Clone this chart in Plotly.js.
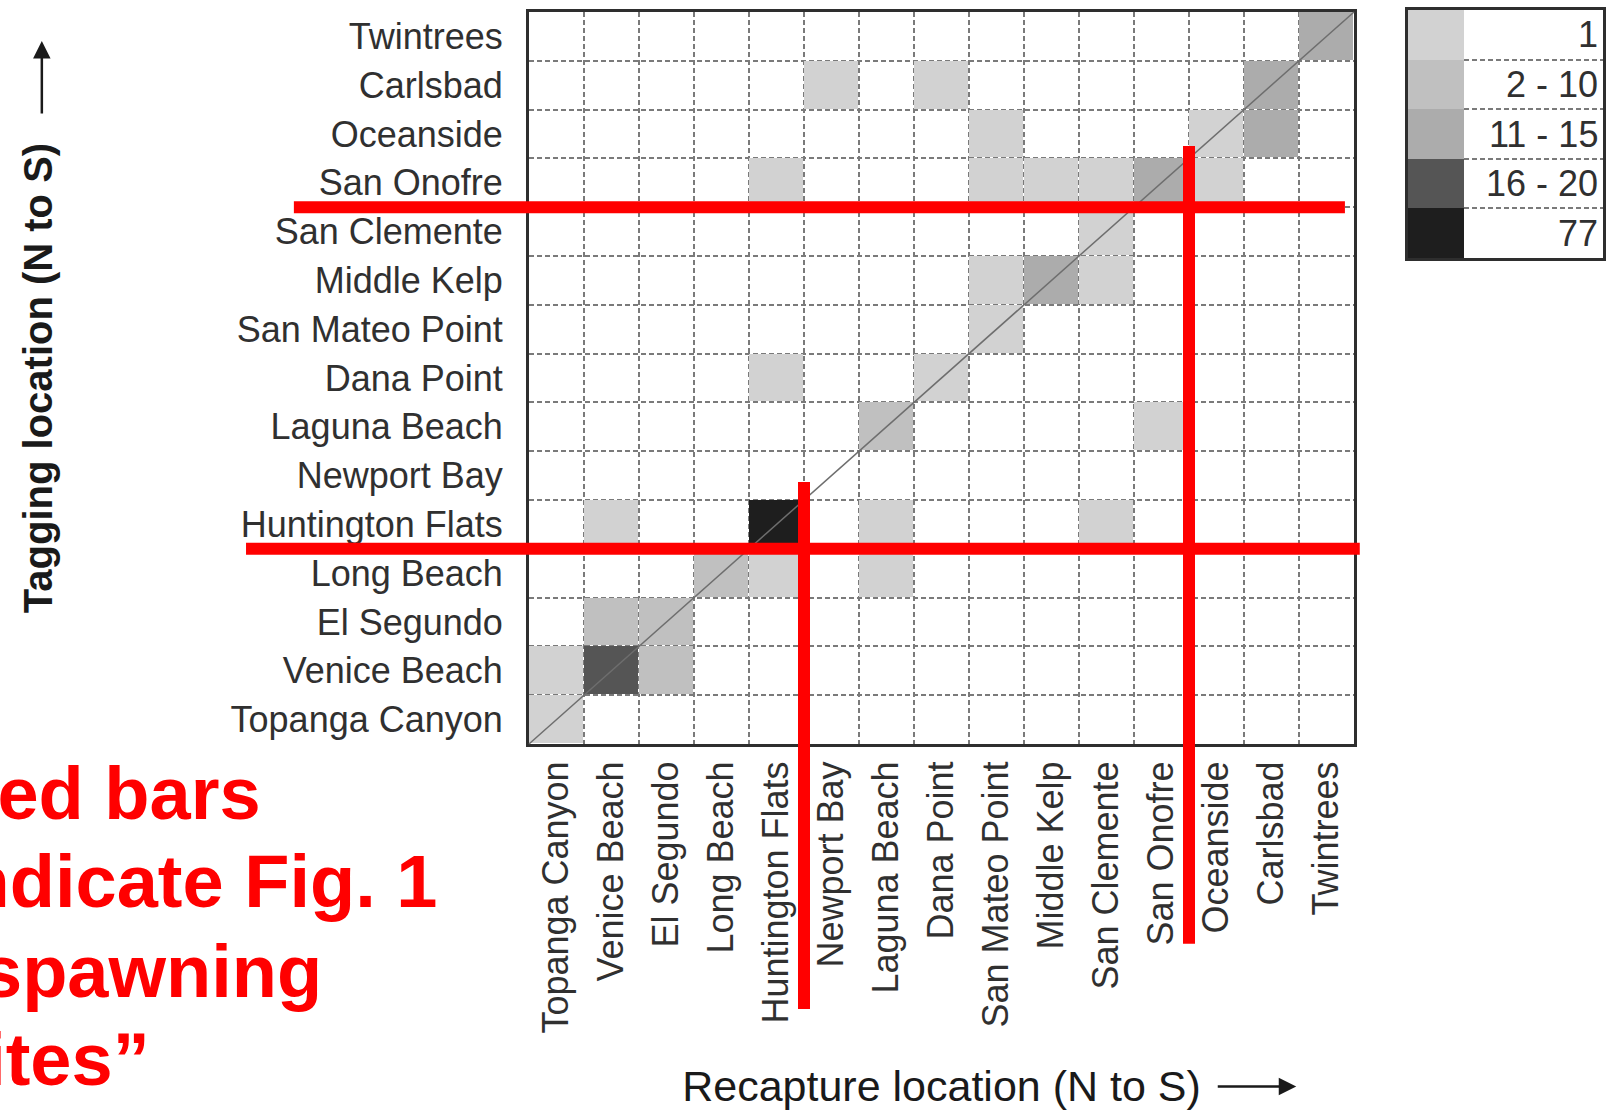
<!DOCTYPE html>
<html>
<head>
<meta charset="utf-8">
<script src="https://cdn.plot.ly/plotly-3.0.1.min.js"></script>
<style>
  html, body { margin: 0; padding: 0; background: #ffffff; }
  #chart { width: 1606px; height: 1110px; }
</style>
</head>
<body>
<div id="chart"></div>
<script>
// ---- Data -------------------------------------------------------------
// Locations ordered north to south (x: left->right, y: bottom->top)
const locations = ['Topanga Canyon', 'Venice Beach', 'El Segundo', 'Long Beach',
  'Huntington Flats', 'Newport Bay', 'Laguna Beach', 'Dana Point', 'San Mateo Point',
  'Middle Kelp', 'San Clemente', 'San Onofre', 'Oceanside', 'Carlsbad', 'Twintrees'];

// One entry per shaded cell: tagging site, recapture site, number of fish
const tagSite = [
  'Twintrees',
  'Carlsbad', 'Carlsbad', 'Carlsbad',
  'Oceanside', 'Oceanside', 'Oceanside',
  'San Onofre', 'San Onofre', 'San Onofre', 'San Onofre', 'San Onofre', 'San Onofre',
  'San Clemente',
  'Middle Kelp', 'Middle Kelp', 'Middle Kelp',
  'San Mateo Point',
  'Dana Point', 'Dana Point',
  'Laguna Beach', 'Laguna Beach',
  'Huntington Flats', 'Huntington Flats', 'Huntington Flats', 'Huntington Flats',
  'Long Beach', 'Long Beach', 'Long Beach',
  'El Segundo', 'El Segundo',
  'Venice Beach', 'Venice Beach', 'Venice Beach',
  'Topanga Canyon'];
const recapSite = [
  'Twintrees',
  'Newport Bay', 'Dana Point', 'Carlsbad',
  'San Mateo Point', 'Oceanside', 'Carlsbad',
  'Huntington Flats', 'San Mateo Point', 'Middle Kelp', 'San Clemente', 'San Onofre', 'Oceanside',
  'San Clemente',
  'San Mateo Point', 'Middle Kelp', 'San Clemente',
  'San Mateo Point',
  'Huntington Flats', 'Dana Point',
  'Laguna Beach', 'San Onofre',
  'Venice Beach', 'Huntington Flats', 'Laguna Beach', 'San Clemente',
  'Long Beach', 'Huntington Flats', 'Laguna Beach',
  'Venice Beach', 'El Segundo',
  'Topanga Canyon', 'Venice Beach', 'El Segundo',
  'Topanga Canyon'];
const fishCount = [
  13,
  1, 1, 14,
  1, 1, 12,
  1, 1, 1, 1, 12, 1,
  1,
  1, 12, 1,
  1,
  1, 1,
  6, 1,
  1, 77, 1, 1,
  6, 1, 1,
  5, 5,
  1, 18, 5,
  1];

// Legend bins
const binLabels = ['1', '2 - 10', '11 - 15', '16 - 20', '77'];
const binUpper  = [1, 10, 15, 20, 77];
const binColors = ['#d2d2d2', '#c0c0c0', '#acacac', '#555555', '#1e1e1e'];

// Overlay note
const noteLines = ['Red bars', 'indicate Fig. 1', '\u201Cspawning', 'sites\u201D'];

// ---- Build matrices ---------------------------------------------------
const n = locations.length;
const nb = binLabels.length;
const binOf = c => binUpper.findIndex(u => c <= u);
const z = locations.map(() => locations.map(() => null));
const counts = locations.map(() => locations.map(() => null));
tagSite.forEach((t, i) => {
  const r = locations.indexOf(t);
  const c = locations.indexOf(recapSite[i]);
  z[r][c] = binOf(fishCount[i]);
  counts[r][c] = fishCount[i];
});
const colorscale = [];
binColors.forEach((col, i) => { colorscale.push([i / nb, col]); colorscale.push([(i + 1) / nb, col]); });

// upper / right edge of a category, as fraction of the axis domain
const edge = name => (locations.indexOf(name) + 1) / n;
// legend categories bottom -> top
const legendOrder = binLabels.slice().reverse();

const FONT = 'Liberation Sans, Arial, Helvetica, sans-serif';
const TXT = '#303030';

const traces = [
  {
    type: 'heatmap', x: locations, y: locations, z: z, customdata: counts,
    colorscale: colorscale, zmin: -0.5, zmax: nb - 0.5, showscale: false,
    xgap: 1, ygap: 1, xaxis: 'x', yaxis: 'y',
    hovertemplate: 'Tagged: %{y}<br>Recaptured: %{x}<br>Fish: %{customdata}<extra></extra>'
  },
  {
    type: 'heatmap', x: [0], y: binLabels, z: binLabels.map((_, i) => [i]),
    colorscale: colorscale, zmin: -0.5, zmax: nb - 0.5, showscale: false,
    xaxis: 'x2', yaxis: 'y2', hoverinfo: 'skip'
  }
];

const red = '#ff0000';
const shapes = [
  { type: 'line', xref: 'x domain', yref: 'y domain', x0: 0, y0: 0, x1: 1, y1: 1,
    line: { color: '#6e6e6e', width: 1.5 } },
  { type: 'line', xref: 'x domain', yref: 'y domain', x0: -0.285, x1: 0.989,
    y0: edge('San Clemente'), y1: edge('San Clemente'), line: { color: red, width: 12 } },
  { type: 'line', xref: 'x domain', yref: 'y domain', x0: -0.343, x1: 1.007,
    y0: edge('Long Beach'), y1: edge('Long Beach'), line: { color: red, width: 12 } },
  { type: 'line', xref: 'x domain', yref: 'y domain', y0: -0.362, y1: 0.358,
    x0: edge('Huntington Flats'), x1: edge('Huntington Flats'), line: { color: red, width: 12 } },
  { type: 'line', xref: 'x domain', yref: 'y domain', y0: -0.273, y1: 0.817,
    x0: edge('San Onofre'), x1: edge('San Onofre'), line: { color: red, width: 12 } }
];

const noteY = [-0.0675, -0.1877, -0.3107, -0.4309];
const annotations = noteLines.map((t, i) => ({
  text: t, xref: 'x domain', yref: 'y domain', x: -0.712, y: noteY[i],
  xanchor: 'left', yanchor: 'middle', align: 'left', showarrow: false,
  font: { family: FONT, size: 74, color: red, weight: 'bold' }
}));
// legend labels (right aligned in the white part of the legend box)
binLabels.forEach(lbl => annotations.push({
  text: lbl, xref: 'x2 domain', yref: 'y2 domain', x: 0.985,
  y: (legendOrder.indexOf(lbl) + 0.5) / nb,
  xanchor: 'right', yanchor: 'middle', showarrow: false,
  font: { family: FONT, size: 36, color: TXT }
}));
// title arrows
annotations.push({
  text: '', xref: 'x domain', yref: 'y domain', x: 0.93, y: -0.468,
  showarrow: true, ax: -80, ay: 0, arrowhead: 2, arrowsize: 1.4, arrowwidth: 2.5, arrowcolor: '#1a1a1a'
});
annotations.push({
  text: '', xref: 'x domain', yref: 'y domain', x: -0.5905, y: 0.9604,
  showarrow: true, ax: 0, ay: 74, arrowhead: 2, arrowsize: 1.4, arrowwidth: 2.5, arrowcolor: '#1a1a1a'
});

// paper area: x 529..1603, y 10..744
const PL = 529, PR = 1603, PT = 10, PB = 744;
const pw = PR - PL, ph = PB - PT;
const dx = px => (px - PL) / pw;
const dy = py => (PB - py) / ph;

const gridCommon = {
  type: 'category', tickson: 'boundaries', showgrid: true, gridcolor: '#7a7a7a',
  griddash: '5px,3px', gridwidth: 1.5, zeroline: false,
  showline: true, mirror: true, linecolor: '#2e2e2e', linewidth: 3,
  ticks: 'outside', tickcolor: 'rgba(0,0,0,0)', fixedrange: true,
  tickfont: { family: FONT, size: 36, color: TXT }
};

const layout = {
  width: 1606, height: 1110,
  margin: { l: PL, r: 1606 - PR, t: PT, b: 1110 - PB, pad: 0 },
  paper_bgcolor: '#ffffff', plot_bgcolor: '#ffffff',
  font: { family: FONT, color: '#1a1a1a' },
  showlegend: false,
  xaxis: Object.assign({}, gridCommon, {
    domain: [0, dx(1354)], anchor: 'y',
    categoryorder: 'array', categoryarray: locations,
    tickangle: -90, ticklen: 12,
    title: { text: 'Recapture location (N to S)', standoff: 40,
      font: { family: FONT, size: 43, color: '#1a1a1a' } }
  }),
  yaxis: Object.assign({}, gridCommon, {
    domain: [0, dy(12)], anchor: 'x',
    categoryorder: 'array', categoryarray: locations,
    ticklen: 12, ticklabelstandoff: 16,
    title: { text: 'Tagging location (N to S)', standoff: 166,
      font: { family: FONT, size: 40, color: '#1a1a1a', weight: 'bold' } }
  }),
  xaxis2: {
    domain: [dx(1408), 1], anchor: 'y2', range: [-0.5, 3.0],
    showgrid: false, zeroline: false, showticklabels: false, ticks: '',
    showline: true, mirror: true, linecolor: '#2e2e2e', linewidth: 3, fixedrange: true
  },
  yaxis2: {
    domain: [dy(258), 1], anchor: 'x2', type: 'category',
    categoryorder: 'array', categoryarray: legendOrder, range: [-0.5, nb - 0.5],
    tickson: 'boundaries', showticklabels: false,
    showgrid: true, gridcolor: '#7a7a7a', griddash: '5px,3px', gridwidth: 1.5,
    ticks: '', zeroline: false, fixedrange: true,
    showline: true, mirror: true, linecolor: '#2e2e2e', linewidth: 3
  },
  shapes: shapes,
  annotations: annotations
};

Plotly.newPlot('chart', traces, layout, { displayModeBar: false });
</script>
</body>
</html>
